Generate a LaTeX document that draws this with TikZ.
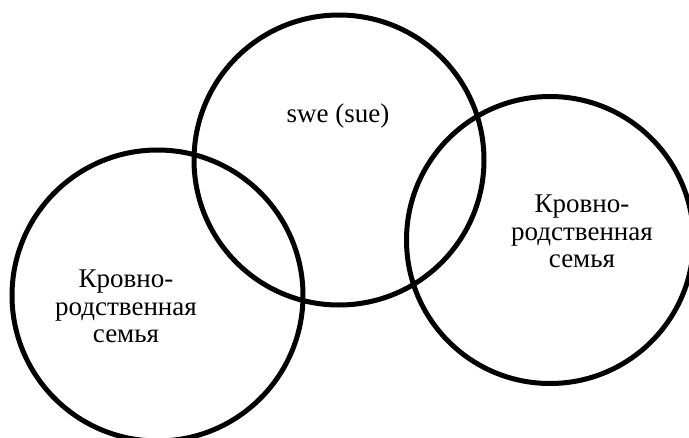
\documentclass[tikz,border=0pt]{standalone}
\usepackage{fontspec}
\setmainfont{Liberation Serif}
\begin{document}
\begin{tikzpicture}[x=1pt,y=-1pt,
  ring/.style={draw=black,line width=5pt},
  lbl/.style={align=center,inner sep=0pt,font=\fontsize{27}{27.5}\selectfont}]
\useasboundingbox (0,0) rectangle (689,437);
\draw[ring] (157.5,295.5) circle[radius=145.5pt];
\draw[ring] (339,160) circle[radius=145pt];
\draw[ring] (550,240) circle[radius=143.5pt];
\node[lbl,anchor=base] (top) at (338,122) {swe (sue)};
\node[lbl] (left) at (126,306.5) {Кровно-\\родственная\\семья};
\node[lbl] (right) at (582,231.5) {Кровно-\\родственная\\семья};
\end{tikzpicture}
\end{document}
